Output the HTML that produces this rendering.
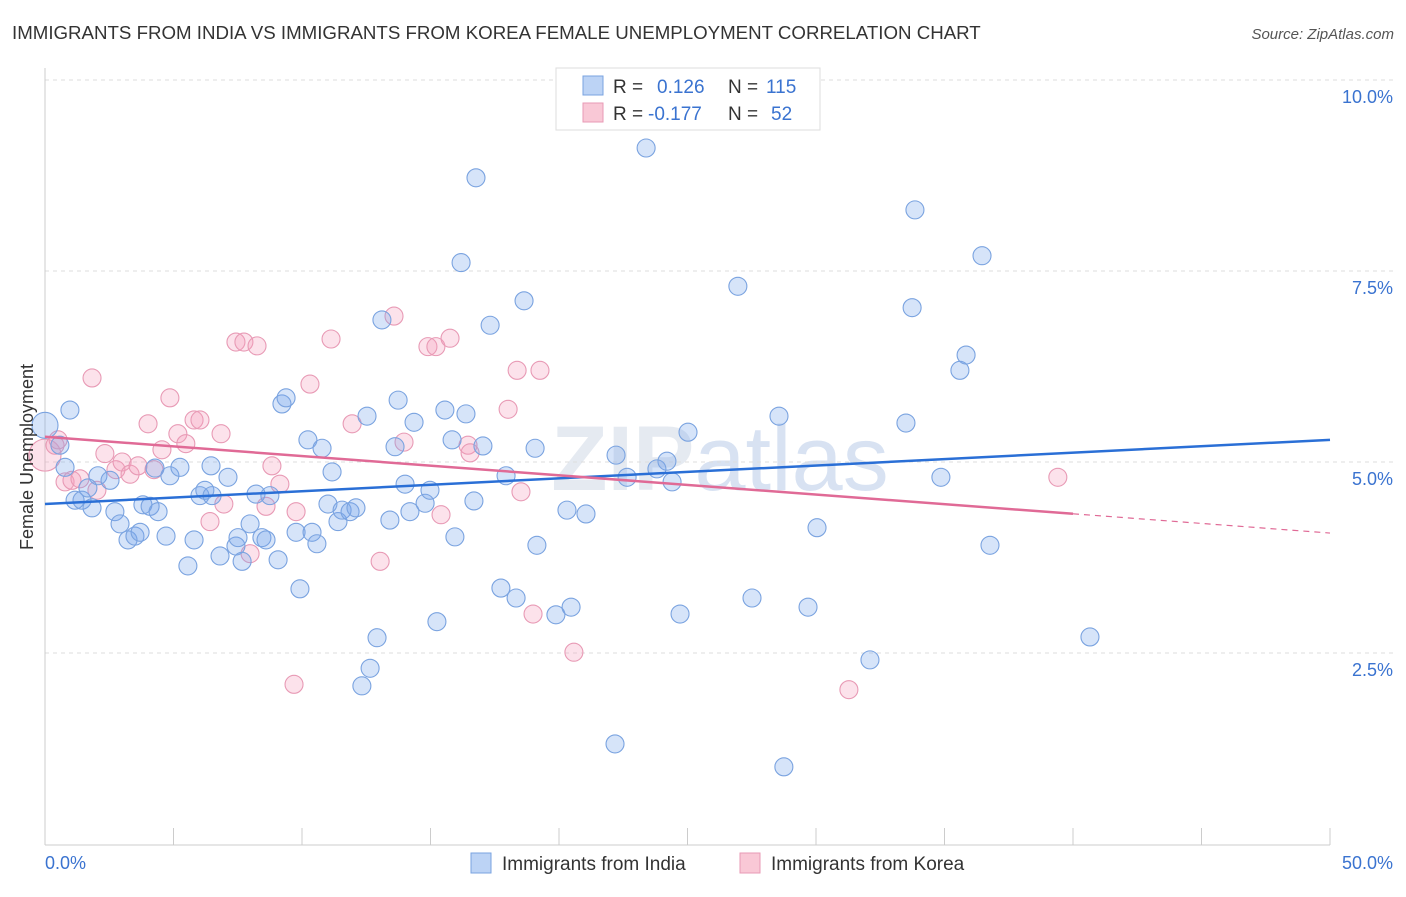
<!DOCTYPE html>
<html><head><meta charset="utf-8"><style>
body{margin:0;background:#fff;font-family:"Liberation Sans",sans-serif;}
svg text{font-family:"Liberation Sans",sans-serif;}
</style></head><body>
<svg id="chart" width="1406" height="892" xmlns="http://www.w3.org/2000/svg">
<text x="12" y="39" font-size="18.7" fill="#333">IMMIGRANTS FROM INDIA VS IMMIGRANTS FROM KOREA FEMALE UNEMPLOYMENT CORRELATION CHART</text>
<text x="1394" y="39" font-size="15" fill="#555" text-anchor="end" font-style="italic">Source: ZipAtlas.com</text>
<text x="720" y="490" font-size="92" fill="#dfe5ee" text-anchor="middle" font-family="Liberation Serif" font-weight="bold" opacity="0.8">ZIP<tspan fill="#cfdcf0" font-family="Liberation Sans" font-weight="normal">atlas</tspan></text>
<g id="grid"></g>
<g id="axes"></g>
<g id="pts"></g>
<g id="trends"></g>
<text transform="translate(33,457) rotate(-90)" font-size="18" fill="#333" text-anchor="middle">Female Unemployment</text>
<g>
<rect x="556" y="68" width="264" height="62" fill="#fff" stroke="#ddd"/>
<rect x="583" y="76" width="20" height="19" fill="#bcd3f5" stroke="#7aa3e0"/>
<rect x="583" y="103" width="20" height="19" fill="#f9c8d6" stroke="#e89ab5"/>
<text x="613" y="93" font-size="19" fill="#333">R = <tspan fill="#3a73d0" x="657">0.126</tspan><tspan fill="#333" x="728">N = </tspan><tspan fill="#3a73d0" x="766">115</tspan></text>
<text x="613" y="120" font-size="19" fill="#333">R = <tspan fill="#3a73d0" x="648">-0.177</tspan><tspan fill="#333" x="728">N = </tspan><tspan fill="#3a73d0" x="771">52</tspan></text>
</g>
<g>
<rect x="471" y="853" width="20" height="20" fill="#bcd3f5" stroke="#7aa3e0"/>
<text x="502" y="870" font-size="19" fill="#333">Immigrants from India</text>
<rect x="740" y="853" width="20" height="20" fill="#f9c8d6" stroke="#e89ab5"/>
<text x="771" y="870" font-size="19" fill="#333">Immigrants from Korea</text>
</g>
</svg>
<script>
const indiaX=[0,0.97,0.58,0.78,1.17,1.44,1.83,2.06,2.53,1.67,2.72,2.92,3.23,3.5,3.7,3.81,4.09,4.4,4.28,4.86,5.25,4.71,5.56,5.8,6.03,6.22,6.5,6.46,6.81,7.12,7.43,7.51,7.67,7.98,8.21,8.44,8.6,8.75,9.07,9.22,9.38,9.77,9.92,10.23,10.39,10.58,10.78,11.01,11.17,11.4,11.56,11.87,12.1,12.33,12.53,12.65,12.92,13.11,13.42,13.62,13.74,14.01,14.2,14.36,14.79,14.98,15.25,15.56,15.84,15.95,16.19,16.38,16.69,16.77,17.04,17.32,17.74,17.94,18.33,18.64,19.07,19.14,19.88,20.31,20.47,21.05,22.22,22.18,22.65,23.39,23.81,24.2,24.4,24.71,25.02,26.96,27.51,28.56,28.75,29.69,30.04,32.1,33.5,33.74,33.85,34.86,35.6,35.84,36.46,36.77,40.66];
const indiaY=[5.48,5.68,5.22,4.93,4.5,4.5,4.4,4.82,4.76,4.66,4.35,4.19,3.98,4.03,4.08,4.44,4.42,4.35,4.92,4.82,4.93,4.03,3.64,3.98,4.56,4.63,4.56,4.95,3.77,4.8,3.9,4.01,3.7,4.19,4.58,4.01,3.98,4.56,3.72,5.76,5.84,4.08,3.34,5.29,4.08,3.93,5.18,4.45,4.87,4.22,4.37,4.35,4.4,2.07,5.6,2.3,2.7,6.86,4.24,5.2,5.81,4.71,4.35,5.52,4.46,4.63,2.91,5.68,5.29,4.02,7.61,5.63,4.49,8.72,5.21,6.79,3.35,4.82,3.22,7.11,5.18,3.91,3.0,4.37,3.1,4.32,5.09,1.31,4.8,9.11,4.91,5.01,4.74,3.01,5.39,7.3,3.22,5.6,1.01,3.1,4.14,2.41,5.51,7.02,8.3,4.8,6.2,6.4,7.7,3.91,2.71];
const koreaX=[0,0.39,0.51,0.78,1.05,1.36,1.83,2.02,2.33,2.76,3.0,3.31,3.62,4.01,4.24,4.55,4.86,5.17,5.48,5.8,6.03,6.42,6.85,6.96,7.43,7.74,8.25,7.98,8.6,8.83,9.14,9.69,9.77,10.31,11.13,11.95,13.04,13.58,13.97,14.9,15.21,15.41,15.76,16.46,16.54,18.02,18.37,18.52,18.99,19.26,20.58,31.28,39.41];
const koreaY=[5.09,5.22,5.29,4.74,4.76,4.78,6.1,4.63,5.11,4.9,5.0,4.84,4.95,5.5,4.9,5.16,5.84,5.37,5.24,5.55,5.55,4.22,5.37,4.45,6.57,6.57,6.52,3.8,4.42,4.95,4.71,2.09,4.35,6.02,6.61,5.5,3.7,6.91,5.26,6.51,6.51,4.31,6.62,5.22,5.12,5.69,6.2,4.61,3.01,6.2,2.51,2.02,4.8];
const yTicks=[2.5,5.0,7.5,10.0];
const yTickLabels=["2.5%","5.0%","7.5%","10.0%"];
const xTicks=[0,5,10,15,20,25,30,35,40,45,50];
const xTickLabels=["0.0%","50.0%"];
const indiaTrend=[4.45,5.29];
const koreaTrend=[5.33,4.07];
const koreaSolidEnd=40;

const NS="http://www.w3.org/2000/svg";
const X=v=>45+v*25.7;
const Y=v=>844-v*76.4;
function mk(tag,attrs,parent){const e=document.createElementNS(NS,tag);for(const k in attrs)e.setAttribute(k,attrs[k]);parent.appendChild(e);return e;}
const grid=document.getElementById('grid'),axes=document.getElementById('axes'),pts=document.getElementById('pts'),tr=document.getElementById('trends');
yTicks.forEach((t,i)=>{
  const l=mk('line',{x1:45,x2:1393,y1:Y(t),y2:Y(t),stroke:'#ddd','stroke-dasharray':'4,4'},grid);
  
  
  const tx=mk('text',{x:1393,y:Y(t)+23,'font-size':18,fill:'#3a73d0','text-anchor':'end'},axes);
  tx.textContent=yTickLabels[i];
  
  
});
const ax=mk('line',{x1:45,x2:1330,y1:845,y2:845,stroke:'#ccc'},axes);


const ay=mk('line',{x1:45,x2:45,y1:68,y2:845,stroke:'#ccc'},axes);


xTicks.forEach(t=>{
  const l=mk('line',{x1:X(t),x2:X(t),y1:828,y2:845,stroke:'#ccc'},axes);
  
  
});
const xl0=mk('text',{x:45,y:869,'font-size':18,fill:'#3a73d0'},axes);xl0.textContent=xTickLabels[0];


const xl1=mk('text',{x:1393,y:869,'font-size':18,fill:'#3a73d0','text-anchor':'end'},axes);xl1.textContent=xTickLabels[1];


function dots(xs,ys,fill,stroke,name){
  xs.forEach((x,i)=>{
    const r=i===0?(name==='india-point'?13:16):9;
    const c=mk('circle',{cx:X(x),cy:Y(ys[i]),r:r,fill:fill,stroke:stroke,'stroke-width':1.1},pts);
    
    
  });
}
dots(koreaX,koreaY,'rgba(244,160,188,0.3)','#e89ab5','korea-point');
dots(indiaX,indiaY,'rgba(120,165,235,0.3)','#7aa3e0','india-point');
const bl=mk('line',{x1:X(0),y1:Y(indiaTrend[0]),x2:X(50),y2:Y(indiaTrend[1]),stroke:'#2a6fd6','stroke-width':2.5},tr);


const kAt=x=>koreaTrend[0]+(koreaTrend[1]-koreaTrend[0])*x/50;
const pl=mk('line',{x1:X(0),y1:Y(koreaTrend[0]),x2:X(koreaSolidEnd),y2:Y(kAt(koreaSolidEnd)),stroke:'#e06a96','stroke-width':2.5},tr);


const pd=mk('line',{x1:X(koreaSolidEnd),y1:Y(kAt(koreaSolidEnd)),x2:X(50),y2:Y(koreaTrend[1]),stroke:'#e06a96','stroke-width':1.2,'stroke-dasharray':'6,5'},tr);


</script>
</body></html>
